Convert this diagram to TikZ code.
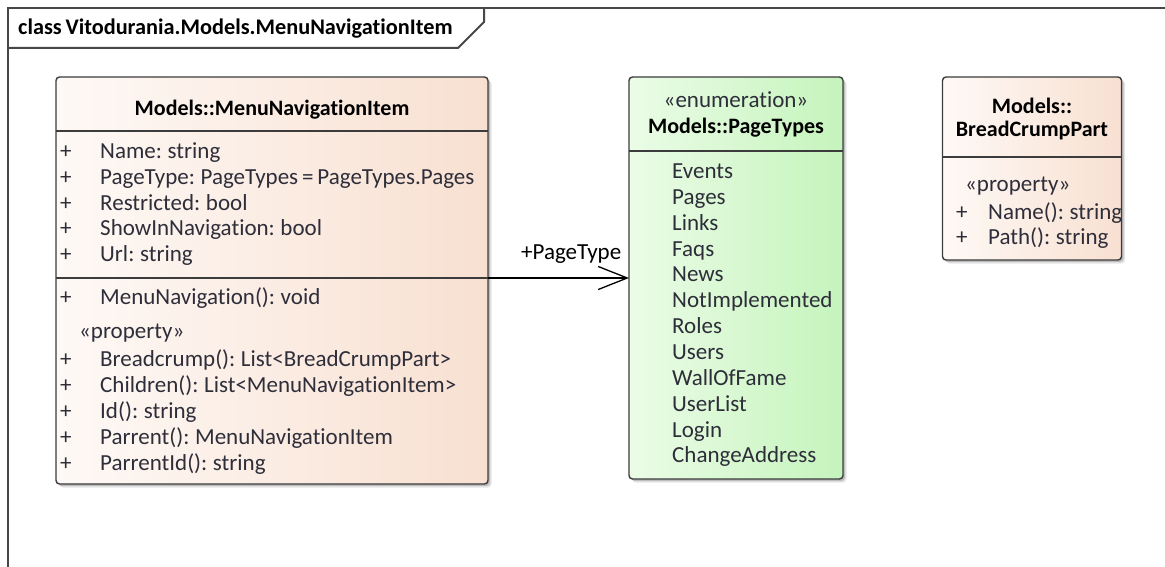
\documentclass[tikz,border=0pt]{standalone}
\usepackage{fontspec}
\setmainfont{Carlito}[WordSpace=0.75, Ligatures=NoCommon]
\usetikzlibrary{arrows.meta,shadows}

\definecolor{framegray}{HTML}{474747}
\definecolor{edgegray}{HTML}{3C3C3C}
\definecolor{txtgray}{HTML}{2E2E3A}
\definecolor{peachL}{HTML}{FEF9F6}
\definecolor{peachR}{HTML}{F8E0D1}
\definecolor{greenL}{HTML}{EBFCE7}
\definecolor{greenR}{HTML}{C5F4BC}

\newcommand{\memfont}{\fontsize{23}{27}\selectfont}
\newcommand{\headfont}{\fontsize{22}{26}\selectfont\bfseries}
\newcommand{\titlefont}{\fontsize{22.3}{26}\selectfont\bfseries}

\tikzset{
  frameline/.style={draw=framegray, line width=2pt},
  classbox/.style={draw=edgegray, line width=1.4pt, rounded corners=3.5pt,
    inner sep=0pt, outer sep=0pt,
    drop shadow={shadow xshift=3.5pt, shadow yshift=-3.5pt, opacity=.10, fill=black},
    drop shadow={shadow xshift=2pt, shadow yshift=-2pt, opacity=.18, fill=black}},
  peach/.style={left color=peachL, right color=peachR},
  mint/.style={left color=greenL, right color=greenR},
  divider/.style={draw=edgegray, line width=1.4pt},
  member/.style={anchor=base west, inner sep=0pt, font=\memfont, text=txtgray},
  header/.style={anchor=base, inner sep=0pt, font=\headfont, text=black},
  stereo/.style={anchor=base, inner sep=0pt, font=\memfont, text=txtgray},
  assoc/.style={draw=black, line width=1.3pt,
    -{Straight Barb[length=29pt, width=23pt, line width=1.3pt]}},
}

\begin{document}
\begin{tikzpicture}[x=1pt, y=-1pt]
\useasboundingbox (0,0) rectangle (1165,567);

% diagram frame with its name tab
\draw[frameline] (8,575) -- (8,8) -- (1175,8);
\draw[frameline] (8,48) -- (458,48) -- (484,22) -- (484,8);
\node[anchor=base west, inner sep=0pt, font=\titlefont] (title) at (18,34.5)
  {class Vitodurania.Models.MenuNavigationItem};

% ---------- Models::MenuNavigationItem ----------
\node[classbox, peach, minimum width=432pt, minimum height=407pt] (mni) at (272,280.5) {};
\draw[divider] (mni.west |- 0,131) -- (mni.east |- 0,131);
\draw[divider] (mni.west |- 0,278) -- (mni.east |- 0,278);
\node[header] (mnih) at (272,115.5) {Models::MenuNavigationItem};
\foreach \t [count=\i] in {Name: string, PageType: PageTypes = PageTypes.Pages,
    Restricted: bool, ShowInNavigation: bool, Url: string} {
  \node[member] (mnap\i) at (60,{159+(\i-1)*25.6}) {+};
  \node[member] (mnat\i) at (100,{159+(\i-1)*25.6}) {\t};
}
\node[member] (mnop) at (60,304) {+};
\node[member] (mnot) at (100,304) {MenuNavigation(): void};
\node[member] (mnst) at (79,338.5) {«property»};
\foreach \t [count=\i] in {Breadcrump(): List<BreadCrumpPart>,
    Children(): List<MenuNavigationItem>, Id(): string,
    Parrent(): MenuNavigationItem, ParrentId(): string} {
  \node[member] (mnpp\i) at (60,{366.5+(\i-1)*25.9}) {+};
  \node[member] (mnpt\i) at (100,{366.5+(\i-1)*25.9}) {\t};
}

% ---------- Models::PageTypes ----------
\node[classbox, mint, minimum width=214pt, minimum height=402pt] (pt) at (736,278) {};
\draw[divider] (pt.west |- 0,151) -- (pt.east |- 0,151);
\node[stereo] (pts) at (736,108) {«enumeration»};
\node[header] (pth) at (736,134) {Models::PageTypes};
\foreach \t [count=\i] in {Events, Pages, Links, Faqs, News, NotImplemented,
    Roles, Users, WallOfFame, UserList, Login, ChangeAddress} {
  \node[member] (ptv\i) at (672,{178.5+(\i-1)*25.85}) {\t};
}

% ---------- Models::BreadCrumpPart ----------
\node[classbox, peach, minimum width=179pt, minimum height=183pt] (bcp) at (1032,168.5) {};
\draw[divider] (bcp.west |- 0,157) -- (bcp.east |- 0,157);
\node[header] (bcph1) at (1032,113.5) {Models::};
\node[header] (bcph2) at (1032,136.5) {BreadCrumpPart};
\node[member] (bcps) at (965,192) {«property»};
\node[member] (bcpp1) at (956,219) {+};
\node[member] (bcpt1) at (988,219) {Name(): string};
\node[member] (bcpp2) at (956,244) {+};
\node[member] (bcpt2) at (988,244) {Path(): string};

% ---------- association ----------
\draw[assoc] (pt.west -| mni.east) -- (pt.west);
\node[anchor=base west, inner sep=0pt, font=\memfont] (role) at (521,259.5) {+PageType};
\end{tikzpicture}
\end{document}
